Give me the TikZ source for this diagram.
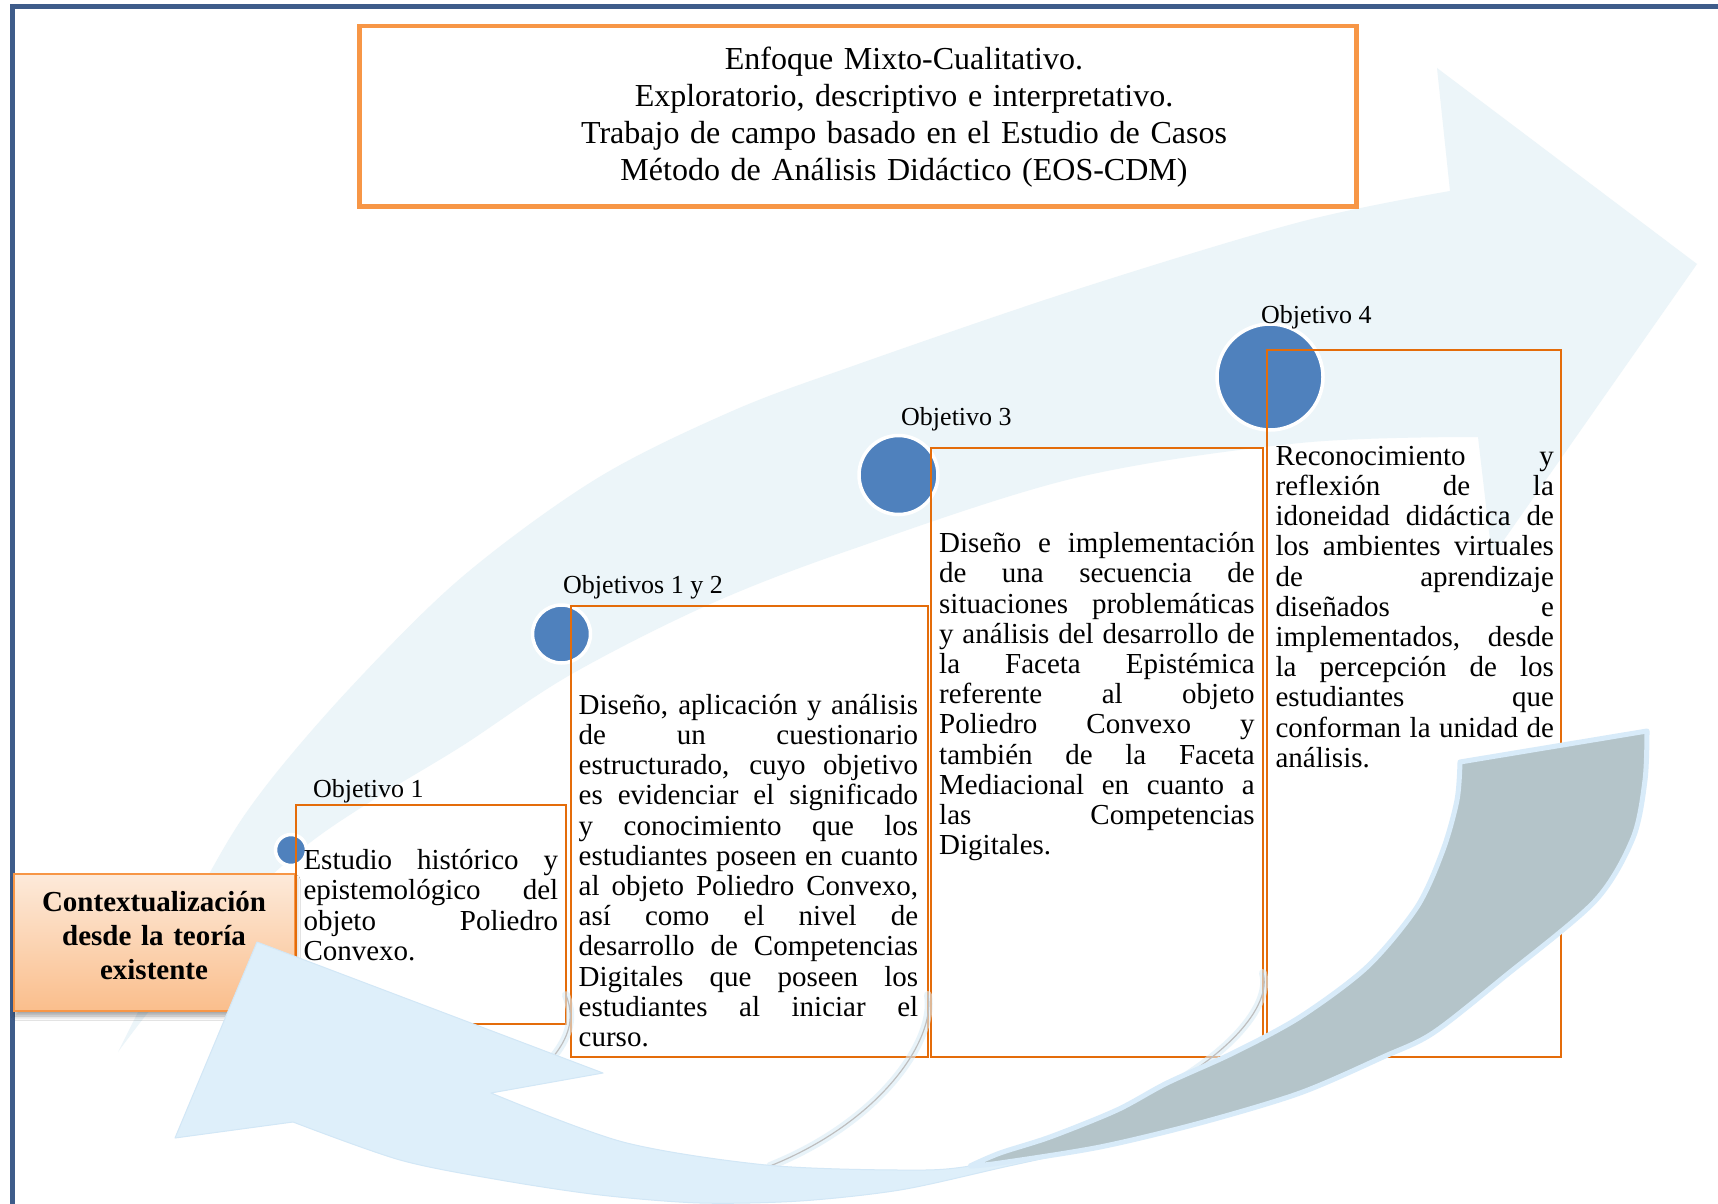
\documentclass[tikz,border=0pt]{standalone}
\usepackage{fontspec}
\setmainfont{Liberation Serif}
\usetikzlibrary{shadows.blur}

\definecolor{frameblue}{RGB}{62,92,138}
\definecolor{palearrow}{RGB}{236,245,249}
\definecolor{skyarrow}{RGB}{222,239,250}
\definecolor{skyedge}{RGB}{210,231,246}
\definecolor{skyrim}{RGB}{216,235,249}
\definecolor{slategray}{RGB}{180,196,201}
\definecolor{boxorange}{RGB}{228,108,10}
\definecolor{titleorange}{RGB}{247,150,70}
\definecolor{dotblue}{RGB}{79,129,189}
\definecolor{peachtop}{RGB}{253,234,218}
\definecolor{peachbot}{RGB}{250,190,140}
\definecolor{arcgray}{RGB}{190,190,190}
\definecolor{arcglow}{RGB}{218,236,246}

\newcommand\txtbody{\fontsize{29}{30.2}\selectfont}
\newcommand\txttop{\fontsize{32}{37}\selectfont}
\newcommand\txtlbl{\fontsize{26}{30}\selectfont}
\newcommand\txtctx{\fontsize{29}{34}\selectfont\bfseries}
% one fully justified line of a paragraph; \jw holds the column width,
% the extra room is shared equally between the word spaces
\newcommand\jw{100pt}
\newcommand\jl[1]{\leavevmode\hbox to \jw{\spaceskip=\fontdimen2\font plus 1fil\relax\strut#1}\\}

\tikzset{
  objbox/.style={draw=boxorange, line width=2pt, inner sep=0pt, anchor=north west},
  bodytext/.style={font=\txtbody, inner sep=0pt, anchor=north west},
  objdot/.style={circle, fill=dotblue, draw=white, line width=3.5pt, inner sep=0pt},
  objlabel/.style={font=\txtlbl, inner sep=0pt, anchor=base west},
  arcglowline/.style={arcglow, line width=8pt, line cap=round, opacity=0.6},
  arcline/.style={arcgray, line width=1.2pt, line cap=round}
}

\begin{document}
\begin{tikzpicture}[x=1pt,y=-1pt]
\useasboundingbox (0,0) rectangle (1718,1204);
\fill[white] (0,0) rectangle (1718,1204);

% page frame (top and left rules)
\draw[frameblue, line width=5pt] (10,7) -- (1718,7);
\draw[frameblue, line width=5pt] (12.5,5) -- (12.5,1204);

% large pale arrow sweeping up to the right
\fill[palearrow]
  plot[smooth, tension=0.55] coordinates {(118,1052) (208,876) (262,791) (350,688) (462,577) (596,479) (730,412) (850,367) (1075,290) (1300,222) (1450,191)}
  -- (1437,68) -- (1697,264) -- (1492,557)
  -- plot[smooth, tension=0.55] coordinates {(1478,437) (1300,443) (1075,478) (850,550) (708,605) (570,675) (462,746) (373,800) (302,849) (220,925) (150,1010) (118,1052)}
  -- cycle;

% method box
\node[draw=titleorange, line width=4.5pt, fill=white, inner sep=0pt, anchor=north west,
      minimum width=997pt, minimum height=180pt] (method) at (357,24) {};
\node[font=\txttop, text width=900pt, align=center, inner sep=0pt, anchor=north] (methodtxt) at (904,43.1)
  {\strut Enfoque Mixto-Cualitativo.\\
   \strut Exploratorio, descriptivo e interpretativo.\\
   \strut Trabajo de campo basado en el Estudio de Casos\\
   \strut Método de Análisis Didáctico (EOS-CDM)};

% context box
\node[draw=titleorange, line width=2pt, top color=peachtop, bottom color=peachbot,
      inner sep=0pt, anchor=north west, minimum width=281pt, minimum height=137pt,
      blur shadow={shadow xshift=1pt, shadow yshift=-5pt, shadow blur radius=4pt, shadow opacity=35}]
  (ctx) at (13,873) {};
\node[font=\txtctx, text width=270pt, align=center, inner sep=0pt, anchor=north] (ctxtxt) at (154,887.9)
  {\strut Contextualización\\ \strut desde la teoría\\ \strut existente};

% objective dots
\node[objdot, minimum size=31pt] (d1) at (291,850) {};
\node[objdot, minimum size=58pt] (d2) at (561.5,634) {};
\node[objdot, minimum size=79pt] (d3) at (898.5,475) {};
\node[objdot, minimum size=106pt] (d4) at (1270,377) {};

% objective boxes
\node[objbox, minimum width=270pt, minimum height=219pt] (b1) at (295,804) {};
\node[objbox, minimum width=357pt, minimum height=451pt] (b2) at (570,605) {};
\node[objbox, minimum width=332pt, minimum height=609pt] (b3) at (930,447) {};
\node[objbox, minimum width=294pt, minimum height=707pt] (b4) at (1266,349) {};

% labels
\node[objlabel] (l1) at (313,797) {Objetivo 1};
\node[objlabel] (l2) at (563,593) {Objetivos 1 y 2};
\node[objlabel] (l3) at (901,425) {Objetivo 3};
\node[objlabel] (l4) at (1261,323.5) {Objetivo 4};

% box texts
\node[bodytext, text width=254.7pt] (t1) at (303.3,848.4) {%
\renewcommand\jw{254.7pt}%
\jl{Estudio histórico y}
\jl{epistemológico del}
\jl{objeto Poliedro}
\strut Convexo.};

\node[bodytext, text width=339.5pt] (t2) at (578.5,692.9) {%
\renewcommand\jw{339.5pt}%
\jl{Diseño, aplicación y análisis}
\jl{de un cuestionario}
\jl{estructurado, cuyo objetivo}
\jl{es evidenciar el significado}
\jl{y conocimiento que los}
\jl{estudiantes poseen en cuanto}
\jl{al objeto Poliedro Convexo,}
\jl{así como el nivel de}
\jl{desarrollo de Competencias}
\jl{Digitales que poseen los}
\jl{estudiantes al iniciar el}
\strut curso.};

\node[bodytext, text width=315.5pt] (t3) at (939,531.4) {%
\renewcommand\jw{315.5pt}%
\jl{Diseño e implementación}
\jl{de una secuencia de}
\jl{situaciones problemáticas}
\jl{y análisis del desarrollo de}
\jl{la Faceta Epistémica}
\jl{referente al objeto}
\jl{Poliedro Convexo y}
\jl{también de la Faceta}
\jl{Mediacional en cuanto a}
\jl{las Competencias}
\strut Digitales.};

\node[bodytext, text width=278.3pt] (t4) at (1275.4,443.9) {%
\renewcommand\jw{278.3pt}%
\jl{Reconocimiento y}
\jl{reflexión de la}
\jl{idoneidad didáctica de}
\jl{los ambientes virtuales}
\jl{de aprendizaje}
\jl{diseñados e}
\jl{implementados, desde}
\jl{la percepción de los}
\jl{estudiantes que}
\jl{conforman la unidad de}
\strut análisis.};

% thin linking arcs below the boxes
\foreach \sty in {arcglowline, arcline} {
  \draw[\sty] (566,995) .. controls (576,1020) and (568,1042) .. (545,1066);
  \draw[\sty] (928,995) .. controls (936,1040) and (880,1122) .. (770,1166);
  \draw[\sty] (1263,973) .. controls (1272,1005) and (1230,1060) .. (1124,1110);
}

% light blue return arrow pointing to the context box
\fill[skyarrow, draw=skyedge, line width=1pt, line join=round]
  (175,1138) -- (257,942) -- (603,1073) -- (491,1093)
  -- plot[smooth, tension=0.5] coordinates {(491,1093) (623,1142) (766,1165) (900,1170) (970,1166) (1100,1138) (1200,1105)}
  -- plot[smooth, tension=0.5] coordinates {(1200,1114) (1100,1145) (1000,1168) (900,1190) (800,1201) (700,1203) (600,1195) (500,1180) (400,1160) (293,1122)}
  -- cycle;

% grey tail of the return arrow
\filldraw[fill=slategray, draw=skyrim, line width=5pt, line join=round]
  plot[smooth, tension=0.5] coordinates {(1647,731) (1645,780) (1633,838) (1595,901) (1504,977) (1433,1033) (1383,1057) (1300,1093) (1200,1123) (1100,1147) (1000,1163) (970,1166)}
  -- plot[smooth, tension=0.5] coordinates {(970,1166) (1000,1153) (1050,1137) (1117,1110) (1167,1083) (1233,1053) (1300,1017) (1367,967) (1417,907) (1443,850) (1457,800) (1460,762)}
  -- cycle;

\end{tikzpicture}
\end{document}
